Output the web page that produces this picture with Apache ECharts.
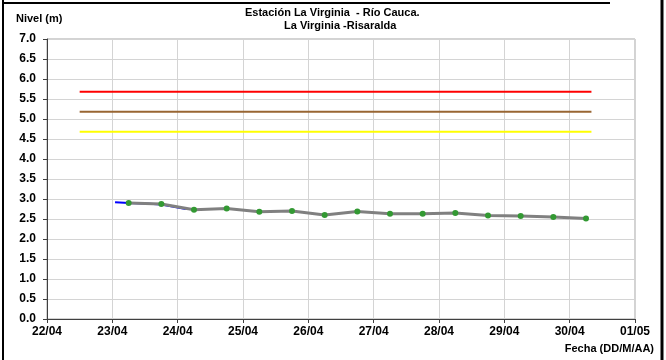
<!DOCTYPE html>
<html>
<head>
<meta charset="utf-8">
<script src="https://cdn.jsdelivr.net/npm/echarts@6/dist/echarts.min.js"></script>
<style>
html,body{margin:0;padding:0;background:#fff;}
#chart{width:666px;height:360px;}
</style>
</head>
<body>
<div id="chart"></div>
<script>
// ---- data ----
var titleLines = ["Estación La Virginia  - Río Cauca.", "La Virginia -Risaralda"];
var yAxisName = "Nivel (m)";
var xAxisName = "Fecha (DD/M/AA)";
var yTicks = [0, 0.5, 1, 1.5, 2, 2.5, 3, 3.5, 4, 4.5, 5, 5.5, 6, 6.5, 7];

// observed level (green points, gray line): [day, month, hour]
var obsTimes = [[23,4,6],[23,4,18],[24,4,6],[24,4,18],[25,4,6],[25,4,18],[26,4,6],[26,4,18],
                [27,4,6],[27,4,18],[28,4,6],[28,4,18],[29,4,6],[29,4,18],[30,4,6]];
var obsValues = [2.90, 2.875, 2.73, 2.76, 2.68, 2.70, 2.60, 2.69, 2.63, 2.63, 2.65, 2.59, 2.575, 2.55, 2.51];

// hourly (blue) trace
var blueTimes = [[23,4,1],[23,4,6],[23,4,12],[23,4,18],[24,4,0],[24,4,3]];
var blueValues = [2.92, 2.90, 2.89, 2.86, 2.79, 2.75];

// alert thresholds
var thresholdStart = [22,4,12];
var thresholdEnd = [30,4,8];
var redLevel = 5.68;
var brownLevel = 5.18;
var yellowLevel = 4.68;

var axisMin = [22,4,0];
var axisMax = [1,5,0];
var YEAR = 2011;

function t(d){ return new Date(YEAR, d[1]-1, d[0], d[2]).getTime(); }
function pairs(times, vals){ return times.map(function(d,i){ return [t(d), vals[i]]; }); }
function hline(v){ return [[t(thresholdStart), v],[t(thresholdEnd), v]]; }

var chart = echarts.init(document.getElementById('chart'), null, {renderer:'canvas'});
var FONT = 'Liberation Sans, Arial, sans-serif';
var DAY = 86400000;

chart.setOption({
  backgroundColor:'#ffffff',
  animation:false,
  grid:{left:47, right:31, top:39, bottom:41, show:true, borderColor:'#a6a6a6', borderWidth:1},
  xAxis:{
    type:'time',
    min:t(axisMin), max:t(axisMax),
    interval:DAY, minInterval:DAY, maxInterval:DAY,
    axisLine:{show:true, lineStyle:{color:'#404040', width:1}},
    axisTick:{show:true, length:4, lineStyle:{color:'#404040'}},
    axisLabel:{
      color:'#000', fontFamily:FONT, fontWeight:'bold', fontSize:12, margin:7,
      showMinLabel:true, showMaxLabel:true,
      formatter:function(v){ var d=new Date(v); var dd=('0'+d.getDate()).slice(-2); var mm=('0'+(d.getMonth()+1)).slice(-2); return dd+'/'+mm; }
    },
    splitLine:{show:true, lineStyle:{color:'#d4d4d4', width:1}}
  },
  yAxis:{
    type:'value', min:yTicks[0], max:yTicks[yTicks.length-1], interval:0.5,
    axisLine:{show:true, lineStyle:{color:'#404040', width:1}},
    axisTick:{show:true, length:4, lineStyle:{color:'#404040'}},
    axisLabel:{color:'#000', fontFamily:FONT, fontWeight:'bold', fontSize:12, margin:11,
      formatter:function(v){ return v.toFixed(1); }},
    splitLine:{show:true, lineStyle:{color:'#d4d4d4', width:1}}
  },
  graphic:[
    {type:'text', style:{text:titleLines[0], font:'bold 11px '+FONT, fill:'#000'}, left:245, top:7},
    {type:'text', style:{text:titleLines[1], font:'bold 11px '+FONT, fill:'#000'}, left:284, top:20},
    {type:'text', style:{text:yAxisName, font:'bold 11px '+FONT, fill:'#000'}, left:16, top:13},
    {type:'text', style:{text:xAxisName, font:'bold 11px '+FONT, fill:'#000'}, right:12, top:343},
    {type:'line', shape:{x1:3, y1:0, x2:3, y2:360}, style:{stroke:'#000', lineWidth:2}},
    {type:'line', shape:{x1:2, y1:3, x2:610, y2:3}, style:{stroke:'#000', lineWidth:2}},
    {type:'line', shape:{x1:662, y1:0, x2:662, y2:360}, style:{stroke:'#000', lineWidth:3}}
  ],
  series:[
    {type:'line', data:hline(redLevel), symbol:'none', lineStyle:{color:'#ff0000', width:2}, silent:true},
    {type:'line', data:hline(brownLevel), symbol:'none', lineStyle:{color:'#996633', width:2}, silent:true},
    {type:'line', data:hline(yellowLevel), symbol:'none', lineStyle:{color:'#ffff00', width:2}, silent:true},
    {type:'line', data:pairs(blueTimes, blueValues), symbol:'none', lineStyle:{color:'#0000ff', width:2}},
    {type:'line', data:pairs(obsTimes, obsValues), symbol:'circle', symbolSize:6,
      lineStyle:{color:'#808080', width:3}, itemStyle:{color:'#339933', borderWidth:0}}
  ]
});
</script>
</body>
</html>
